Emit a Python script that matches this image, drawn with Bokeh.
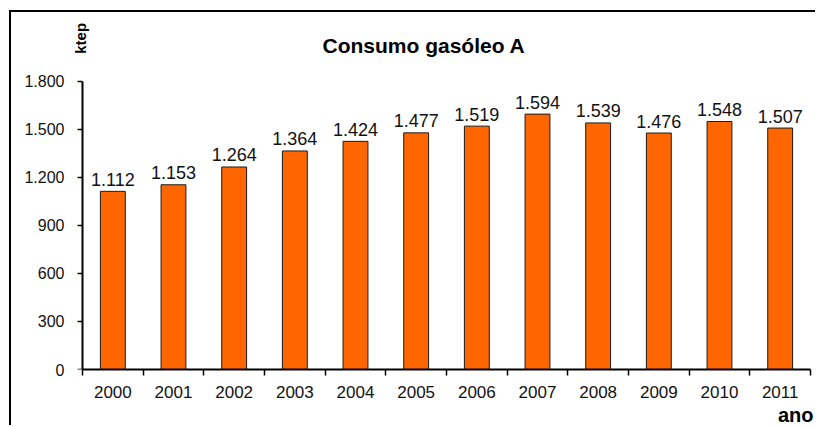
import math
from bokeh.plotting import figure
from bokeh.models import Range1d, FixedTicker, ColumnDataSource, Label, Title, LinearAxis
from bokeh.core.properties import value
from bokeh.embed import file_html
from bokeh.resources import INLINE

years = ["2000", "2001", "2002", "2003", "2004", "2005", "2006", "2007", "2008", "2009", "2010", "2011"]
consumo = [1112, 1153, 1264, 1364, 1424, 1477, 1519, 1594, 1539, 1476, 1548, 1507]
y_ticks = [0, 300, 600, 900, 1200, 1500, 1800]

def fmt(v):
    return f"{v:,}".replace(",", ".")

FONT = "Liberation Sans"
n = len(years)
YMAX = 1800

# canvas layout (canvas is offset by the CSS margin + border below)
W, H = 806, 415
FRAME_L, FRAME_R, FRAME_B = 59, 799, 359   # frame edges in canvas px
AXIS_X, AXIS_TOP = 71, 69                  # where x=0 and y=1800 sit
ppx = (FRAME_R - AXIS_X) / n
ppy = (FRAME_B - AXIS_TOP) / YMAX
x_start = -(AXIS_X - FRAME_L) / ppx
y_end = FRAME_B / ppy

def dx(cx):
    return (cx - AXIS_X) / ppx
def dy(cy):
    return (FRAME_B - cy) / ppy

p = figure(width=W, height=H, x_range=Range1d(x_start, n), y_range=Range1d(0, y_end),
           output_backend="svg", toolbar_location=None,
           min_border_left=FRAME_L, min_border_right=W - FRAME_R,
           min_border_top=0, min_border_bottom=H - FRAME_B)
try:
    p.title = None
except Exception:
    p.title.visible = False
p.styles = {"margin-left": "9px", "margin-top": "10px",
            "border-left": "2px solid black", "border-top": "2px solid black"}
p.outline_line_color = None
p.xgrid.grid_line_color = None
p.ygrid.grid_line_color = None
p.background_fill_color = "white"
p.border_fill_color = "white"

xs = [i + 0.5 for i in range(n)]
src = ColumnDataSource(dict(x=xs, top=consumo, lab=[fmt(v) for v in consumo]))
p.vbar(x="x", top="top", bottom=0, width=0.41, source=src,
       fill_color="#FF6600", line_color="#1a1a1a", line_width=1)
p.text(x="x", y="top", text="lab", source=src, text_align="center",
       text_baseline="alphabetic", y_offset=-12, text_font=value(FONT),
       text_font_size="18px", text_color="#111111")

xa = p.xaxis[0]
xa.bounds = (0, n)
xa.ticker = FixedTicker(ticks=xs, minor_ticks=list(range(n + 1)))
xa.major_label_overrides = {x: y for x, y in zip(xs, years)}
xa.major_tick_out = 0
xa.major_tick_in = 0
xa.minor_tick_out = 6
xa.minor_tick_in = 0
xa.minor_tick_line_color = "black"
xa.minor_tick_line_width = 1.5
xa.axis_line_width = 2
xa.axis_line_color = "black"
xa.major_label_standoff = 10
xa.major_label_text_font = FONT
xa.major_label_text_font_size = "17px"
xa.major_label_text_color = "#111111"

# y axis labels (in the side panel, at the frame edge)
ya = p.yaxis[0]
ya.ticker = FixedTicker(ticks=y_ticks, minor_ticks=[])
ya.major_label_overrides = {t: fmt(t) for t in y_ticks}
ya.axis_line_color = None
ya.major_tick_line_color = None
ya.major_tick_out = 0
ya.major_tick_in = 0
ya.major_label_standoff = 6
ya.major_label_text_font = FONT
ya.major_label_text_font_size = "16px"
ya.major_label_text_color = "#111111"

# y axis line and tick marks at x = 0 (minor ticks only, so no labels)
yline = LinearAxis(fixed_location=0, bounds=(0, YMAX),
                   ticker=FixedTicker(ticks=[], minor_ticks=y_ticks),
                   major_tick_line_color=None, major_label_standoff=0,
                   minor_tick_out=5, minor_tick_in=0, minor_tick_line_width=1.5,
                   minor_tick_line_color="black", axis_line_width=2,
                   axis_line_color="black")
p.add_layout(yline, "left")

p.add_layout(Title(text="ano", align="right", offset=-3, standoff=3, text_font=FONT,
                   text_font_size="20px", text_font_style="bold", text_color="black"), "below")

p.add_layout(Label(x=dx(412.5), y=dy(33), text="Consumo gasóleo A", text_align="center",
                   text_baseline="middle", text_font=FONT, text_font_size="21px",
                   text_font_style="bold", text_color="black"))
p.add_layout(Label(x=dx(69), y=dy(26), text="ktep", text_align="center",
                   text_baseline="middle", angle=math.pi / 2, text_font=FONT,
                   text_font_size="15px", text_font_style="bold", text_color="black"))

open("out.html", "w").write(file_html(p, INLINE))
